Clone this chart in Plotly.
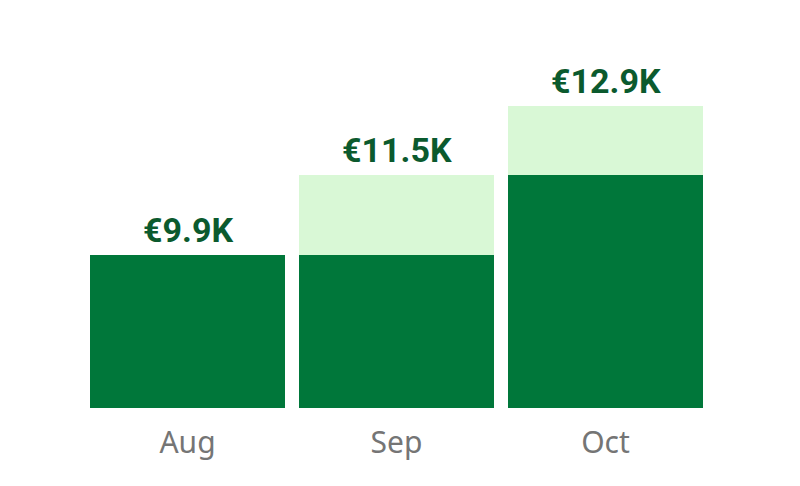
import plotly.graph_objects as go

months = ["Aug", "Sep", "Oct"]
revenue_k = [9.9, 11.5, 12.9]

prev = [revenue_k[0]] + revenue_k[:-1]
base_part = [min(p, v) for p, v in zip(prev, revenue_k)]
growth_part = [v - b for v, b in zip(revenue_k, base_part)]
labels = [f"€{v:.1f}K" for v in revenue_k]

fig = go.Figure()
fig.add_bar(x=months, y=base_part, marker=dict(color="#00773A", line=dict(width=0)),
            hoverinfo="skip")
fig.add_bar(x=months, y=growth_part, marker=dict(color="#D9F8D6", line=dict(width=0)),
            hoverinfo="skip")

for m, v, t in zip(months, revenue_k, labels):
    fig.add_annotation(x=m, y=v, text=t, showarrow=False, yanchor="bottom", yshift=3,
                       font=dict(family="Roboto", size=34, color="#0B5A2E", weight="bold"))

fig.update_layout(
    width=800, height=486,
    barmode="stack", bargap=0.067,
    showlegend=False,
    plot_bgcolor="white", paper_bgcolor="white",
    margin=dict(l=75, r=98, t=32, b=86),
)
fig.update_xaxes(showgrid=False, showline=False, zeroline=False,
                 ticks="outside", ticklen=8, tickcolor="white",
                 tickfont=dict(family="Noto Sans", size=30, color="#757575"))
fig.update_yaxes(range=[6.807, 14.23], visible=False, showgrid=False, zeroline=False)

fig.write_html("out.html")
